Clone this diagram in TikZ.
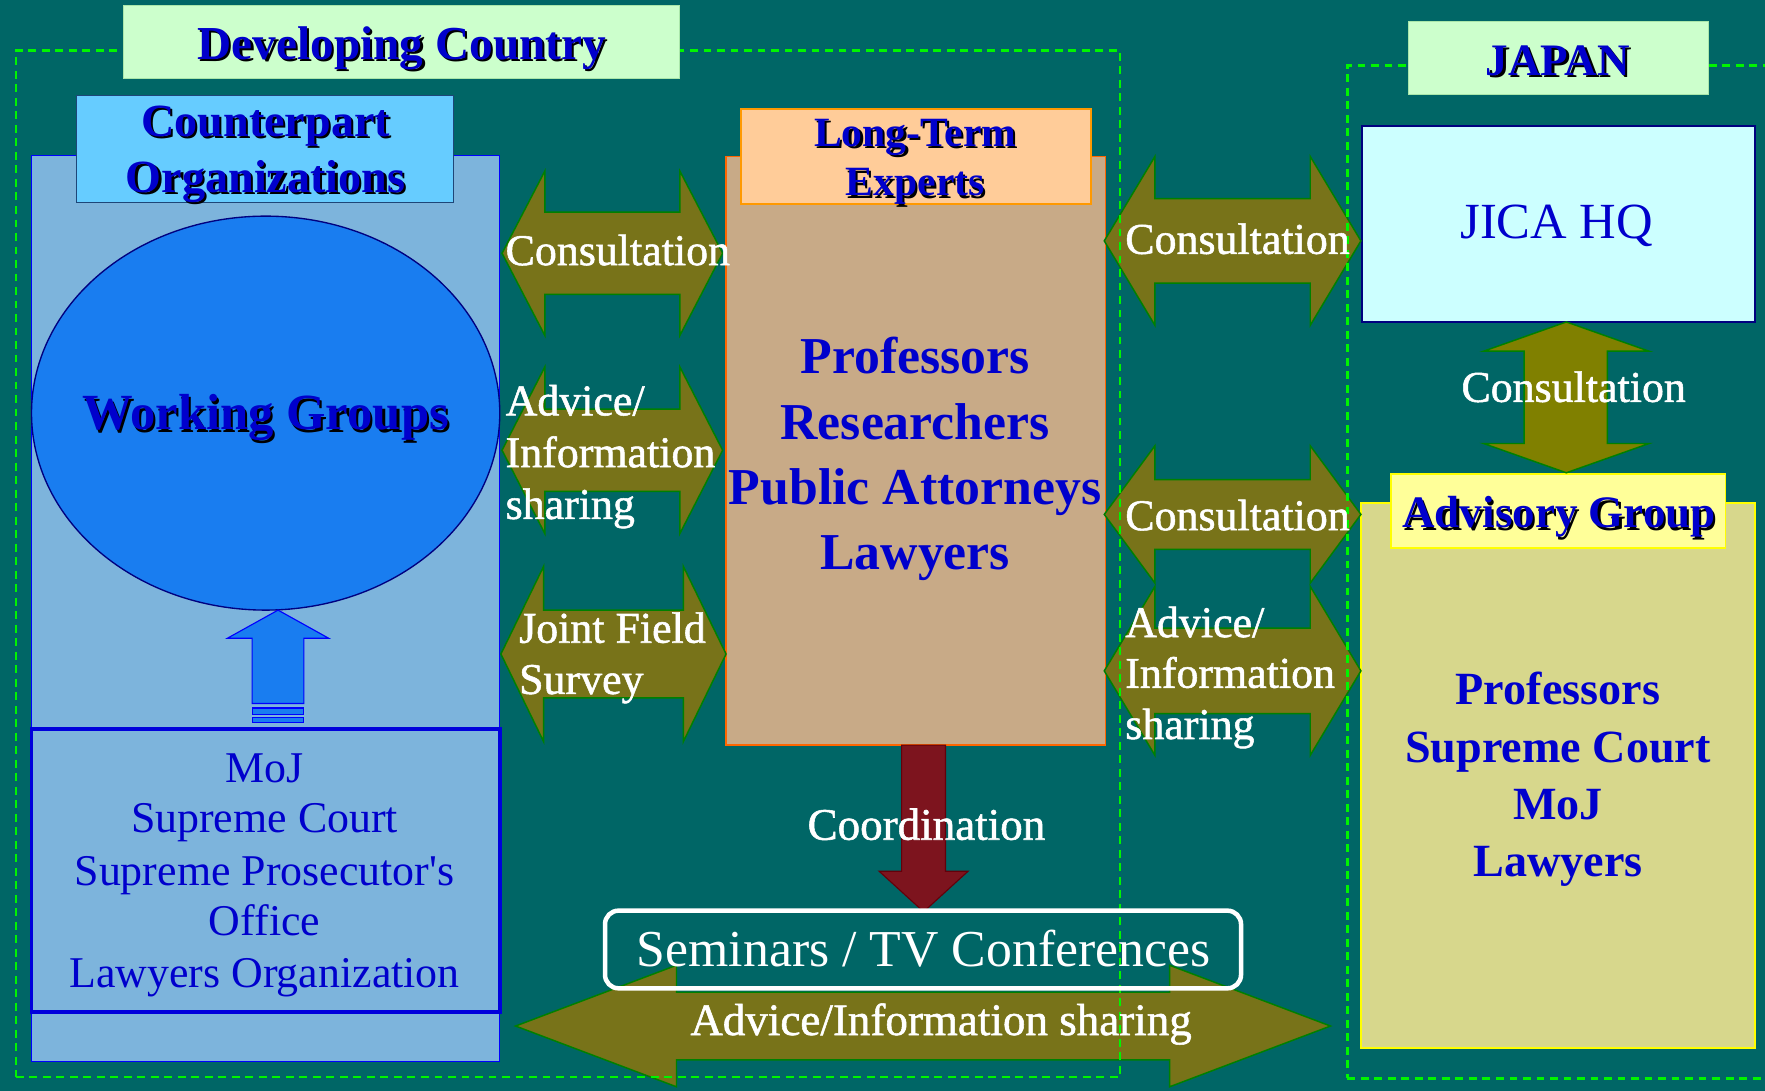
\documentclass[tikz,border=0pt]{standalone}
\usepackage{fontspec}
\setmainfont{Liberation Serif}
\newfontfamily\wfont{Liberation Serif}[FakeBold=1.2]
\newfontfamily\nolig{Liberation Serif}[Ligatures=TeXOff]
\usetikzlibrary{shapes.geometric}
\definecolor{bg}{RGB}{0,102,102}
\definecolor{dashgreen}{RGB}{0,245,0}
\definecolor{lblgreen}{RGB}{204,255,204}
\definecolor{txtblue}{RGB}{0,0,204}
\definecolor{cpblue}{RGB}{102,204,255}
\definecolor{cpedge}{RGB}{30,70,120}
\definecolor{leftfill}{RGB}{125,180,220}
\definecolor{ellfill}{RGB}{25,125,240}
\definecolor{orgfill}{RGB}{200,170,135}
\definecolor{orgedge}{RGB}{255,102,0}
\definecolor{peach}{RGB}{255,204,153}
\definecolor{peachedge}{RGB}{255,153,0}
\definecolor{arrolive}{RGB}{120,115,25}
\definecolor{arrsolid}{RGB}{128,128,0}
\definecolor{arredge}{RGB}{0,128,0}
\definecolor{jicafill}{RGB}{204,255,255}
\definecolor{jicaedge}{RGB}{0,0,128}
\definecolor{advhead}{RGB}{255,255,153}
\definecolor{advfill}{RGB}{215,215,140}
\definecolor{advedge}{RGB}{255,255,0}
\definecolor{coordred}{RGB}{125,20,30}
\newcommand\shd[1]{\rlap{\kern2pt\raisebox{-2pt}{\color{black}#1}}#1}
% horizontal double block arrow: L R c shaft-half head-half head-length
\newcommand\harr[6]{%
  \path[blockarr] (#1,#3) -- ({#1+#6},{#3-#5}) -- ({#1+#6},{#3-#4}) -- ({#2-#6},{#3-#4})
    -- ({#2-#6},{#3-#5}) -- (#2,#3) -- ({#2-#6},{#3+#5}) -- ({#2-#6},{#3+#4})
    -- ({#1+#6},{#3+#4}) -- ({#1+#6},{#3+#5}) -- cycle;}
\begin{document}
\begin{tikzpicture}[x=1pt,y=-1pt,
  box/.style={inner sep=0pt, outer sep=0pt, anchor=north west},
  txt/.style={inner sep=0pt, anchor=base},
  wtxt/.style={txt, text=white, font=\wfont\fontsize{39}{45}\selectfont},
  btxt/.style={txt, text=txtblue},
  blockarr/.style={fill=arrolive, draw=arredge, line width=1.3pt},
  region/.style={box, draw=dashgreen, line width=2.2pt, dash pattern=on 7pt off 5pt},
]
\useasboundingbox (0,0) rectangle (1568,969);
\fill[bg] (0,0) rectangle (1568,969);

% ---------- left column ----------
\node[box, fill=leftfill, draw=blue, line width=1.2pt, minimum width=416pt, minimum height=805pt] (cpbig) at (28,138) {};
\node[box, fill=cpblue, draw=cpedge, line width=1.2pt, minimum width=335pt, minimum height=95pt] (cphead) at (68,85) {};
\node[ellipse, inner sep=0pt, fill=ellfill, draw=jicaedge, line width=1.2pt, minimum width=416pt, minimum height=350pt] (wg) at (236,367) {};
\node[box, fill=leftfill, draw={rgb,255:red,0;green,0;blue,220}, line width=3.5pt, minimum width=416pt, minimum height=251pt] (moj) at (28,648) {};
\path[fill=ellfill, draw=blue, line width=1pt] (247,542) -- (292,567) -- (270,567) -- (270,625) -- (224,625) -- (224,567) -- (202,567) -- cycle;
\path[fill=ellfill, draw=blue, line width=1pt] (224,629) rectangle (270,634.5);
\path[fill=ellfill, draw=blue, line width=1pt] (224,637.5) rectangle (270,641.5);

% ---------- middle column ----------
\node[box, fill=orgfill, draw=orgedge, line width=1.5pt, minimum width=337pt, minimum height=523pt] (ltebig) at (645,139) {};
\node[box, fill=peach, draw=peachedge, line width=1.5pt, minimum width=311pt, minimum height=84pt] (ltehead) at (658,97) {};

% ---------- right column ----------
\node[box, fill=jicafill, draw=jicaedge, line width=2pt, minimum width=349pt, minimum height=174pt] (jica) at (1210,112) {};
\node[box, fill=advfill, draw=advedge, line width=1.5pt, minimum width=350pt, minimum height=484pt] (advbig) at (1209,447) {};
\node[box, fill=advhead, draw=advedge, line width=1.5pt, minimum width=297pt, minimum height=66pt] (advhd) at (1236,421) {};

% ---------- block arrows ----------
\harr{446}{642}{225}{36.5}{73}{38}
\harr{446}{642}{400}{36.5}{74}{38}
\harr{445}{645}{581}{39}{78}{38}
\harr{981}{1209}{214}{37.5}{75}{45}
\harr{981}{1209}{457}{31}{61}{45}
\harr{981}{1209}{596}{38}{75}{45}
\path[fill=arrsolid, draw=arredge, line width=1.3pt] (1391.5,286) -- (1465,312) -- (1428,312) -- (1428,394) -- (1465,394) -- (1391.5,420) -- (1318,394) -- (1354,394) -- (1354,312) -- (1318,312) -- cycle;
\path[fill=coordred, draw={rgb,255:red,100;green,0;blue,10}, line width=1pt] (801,662) -- (840,662) -- (840,774) -- (860,774) -- (820.5,810) -- (781,774) -- (801,774) -- cycle;
\harr{458}{1182}{911.5}{30}{54}{143}

% ---------- dashed regions ----------
\node[region, minimum width=981pt, minimum height=912pt] (devregion) at (14,45) {};
\node[region, minimum width=380pt, minimum height=900pt] (japregion) at (1197,58) {};

\node[box, draw=white, line width=4pt, rounded corners=12pt, minimum width=565pt, minimum height=69pt] (sem) at (537.5,809) {};

% ---------- label boxes ----------
\node[box, fill=lblgreen, draw={rgb,255:red,170;green,230;blue,170}, line width=1pt, minimum width=494pt, minimum height=65pt] (dclabel) at (110,5) {};
\node[box, fill=lblgreen, draw={rgb,255:red,170;green,230;blue,170}, line width=1pt, minimum width=267pt, minimum height=65pt] (jplabel) at (1251,19) {};

% ---------- texts ----------
\begin{scope}[every node/.append style={font=\bfseries\fontsize{42}{48}\selectfont}]
\node[btxt] (t-dc) at (357,53) {\shd{Developing Country}};
\node[btxt, font=\bfseries\fontsize{40}{46}\selectfont] (t-jp) at (1384,67) {\shd{JAPAN}};
\node[btxt, font=\bfseries\fontsize{41}{46}\selectfont] (t-cp1) at (236,121) {\shd{Counterpart}};
\node[btxt, font=\bfseries\fontsize{41}{46}\selectfont] (t-cp2) at (236,171) {\shd{Organizations}};
\node[btxt, font=\bfseries\fontsize{45}{50}\selectfont] (t-wg) at (236,382) {\shd{Working Groups}};
\node[btxt, font=\bfseries\fontsize{37}{42}\selectfont] (t-lt1) at (813,130) {\shd{Long-Term}};
\node[btxt, font=\bfseries\fontsize{37}{42}\selectfont] (t-lt2) at (813,174) {\shd{Experts}};
\node[btxt, font=\bfseries\fontsize{40}{46}\selectfont] (t-ag) at (1385,469) {\shd{Advisory Group}};
\end{scope}

\begin{scope}[every node/.append style={btxt, font=\bfseries\fontsize{46}{52}\selectfont}]
\node (e1) at (813,332) {Professors};
\node (e2) at (813,390) {Researchers};
\node (e3) at (813,448) {Public Attorneys};
\node (e4) at (813,505.5) {Lawyers};
\end{scope}

\begin{scope}[every node/.append style={btxt, font=\bfseries\fontsize{41}{46}\selectfont}]
\node (a1) at (1384,626) {Professors};
\node (a2) at (1384,677) {Supreme Court};
\node (a3) at (1384,728) {MoJ};
\node (a4) at (1384,779) {Lawyers};
\end{scope}

\begin{scope}[every node/.append style={btxt, font=\fontsize{39}{45}\selectfont}]
\node (m1) at (235,695) {MoJ};
\node (m2) at (235,740) {Supreme Court};
\node[font=\nolig\fontsize{39}{45}\selectfont] (m3) at (235,786.5) {Supreme Prosecutor's};
\node (m4) at (235,831.5) {Office};
\node (m5) at (235,877.5) {Lawyers Organization};
\end{scope}

\node[btxt, font=\fontsize{45}{50}\selectfont] (t-jica) at (1383,212) {JICA HQ};

\begin{scope}[every node/.append style={wtxt, anchor=base west}]
\node (l1) at (449,235.5) {Consultation};
\node (l2a) at (449,369) {Advice/};
\node (l2b) at (449,415) {Information};
\node (l2c) at (449,461) {sharing};
\node (l3a) at (461,571) {Joint Field};
\node (l3b) at (461,616.5) {Survey};
\node (r1) at (999.5,225.5) {Consultation};
\node (r2) at (999.5,471) {Consultation};
\node (r3a) at (999.5,566) {Advice/};
\node (r3b) at (999.5,611) {Information};
\node (r3c) at (999.5,656.5) {sharing};
\end{scope}
\node[wtxt] (vc) at (1398,357) {Consultation};
\node[wtxt, font=\wfont\fontsize{40}{46}\selectfont] (coord) at (823,746) {Coordination};
\node[txt, text=white, font=\fontsize{46}{52}\selectfont] (t-sem) at (820.5,859) {Seminars / TV Conferences};
\node[wtxt, font=\wfont\fontsize{40}{46}\selectfont] (bottomadv) at (836,919.5) {Advice/Information sharing};
\end{tikzpicture}
\end{document}
